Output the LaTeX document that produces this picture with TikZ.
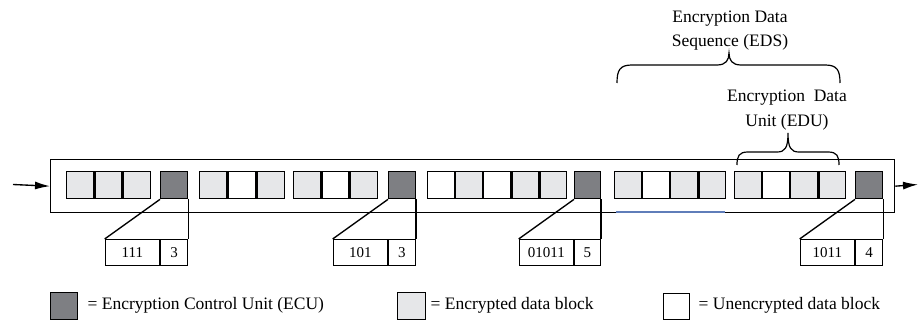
\documentclass[tikz,border=0pt]{standalone}
\usepackage{fontspec}
\setmainfont{Liberation Serif}
\usetikzlibrary{arrows.meta}
\definecolor{ecu}{RGB}{126,127,131}
\definecolor{enc}{RGB}{230,231,233}
\definecolor{bluish}{RGB}{95,125,185}
\begin{document}
\begin{tikzpicture}[x=1pt,y=-1pt,line width=1.35pt,
  blockbox/.style={draw, minimum width=27pt, minimum height=27pt, inner sep=0pt, anchor=north west},
  encblk/.style={blockbox, fill=enc},
  plainblk/.style={blockbox, fill=white},
  ecublk/.style={blockbox, fill=ecu},
  nextblk/.style={anchor=west},
  narrow/.style={minimum width=26.7pt},
  cbox/.style={draw, minimum height=26pt, inner sep=0pt, font=\fontsize{15}{18}\selectfont},
  lbl/.style={align=center, inner sep=0pt, font=\fontsize{17.5}{24.5}\selectfont},
  legtext/.style={inner sep=0pt, anchor=west, font=\fontsize{17.5}{21}\selectfont},
  flow/.style={-{Latex[length=15pt,width=8pt]}, line width=1.35pt},
  bracepath/.style={line width=1.2pt}
]
\useasboundingbox (0,0) rectangle (918,320);

% frame
\node[draw, minimum width=844pt, minimum height=53pt, inner sep=0pt, anchor=north west] (frame) at (50,159) {};
\draw[bluish, line width=1.4pt] (616,212) coordinate (bl1) -- (725,212) coordinate (bl2);

% arrows
\coordinate (in) at (13,184.5);
\coordinate (out) at (918,184.5);
\draw[flow] (in) -- (frame.west);
\draw[flow] (frame.east) -- (out);

% group 1
\node[encblk] (g1a) at (66,171) {};
\node[encblk, nextblk] (g1b) at (g1a.east) {};
\node[encblk, nextblk] (g1c) at (g1b.east) {};
\node[ecublk] (e1) at (160,171) {};
% group 2
\node[encblk, minimum width=27.3pt] (g2a) at (199,171) {};
\node[plainblk, nextblk, minimum width=27.3pt] (g2b) at (g2a.east) {};
\node[encblk, nextblk, minimum width=27.3pt] (g2c) at (g2b.east) {};
% group 3
\node[encblk] (g3a) at (293,171) {};
\node[plainblk, nextblk] (g3b) at (g3a.east) {};
\node[encblk, nextblk] (g3c) at (g3b.east) {};
\node[ecublk, minimum width=26.5pt] (e2) at (388,171) {};
% group 4
\node[plainblk, narrow] (g4a) at (427,171) {};
\node[encblk, nextblk, narrow] (g4b) at (g4a.east) {};
\node[plainblk, nextblk, narrow] (g4c) at (g4b.east) {};
\node[encblk, nextblk, narrow] (g4d) at (g4c.east) {};
\node[encblk, nextblk, narrow] (g4e) at (g4d.east) {};
\node[ecublk, minimum width=25.5pt] (e3) at (574,171) {};
% group 5
\node[encblk, narrow] (g5a) at (614,171) {};
\node[plainblk, nextblk, narrow] (g5b) at (g5a.east) {};
\node[encblk, nextblk, narrow] (g5c) at (g5b.east) {};
\node[encblk, nextblk, narrow] (g5d) at (g5c.east) {};
% group 6
\node[encblk, narrow] (g6a) at (734,171) {};
\node[plainblk, nextblk, narrow] (g6b) at (g6a.east) {};
\node[encblk, nextblk, narrow] (g6c) at (g6b.east) {};
\node[encblk, nextblk, narrow] (g6d) at (g6c.east) {};
\node[ecublk] (e4) at (855,171) {};

% callouts
\coordinate (callrow) at (0,239);
\node[cbox, minimum width=54pt, anchor=north east] (v1) at (e1.south west |- callrow) {111};
\node[cbox, minimum width=27pt, anchor=north west] (n1) at (v1.north east) {3};
\draw (e1.south west) -- (v1.north west);
\draw (e1.south east) -- (n1.north east);

\node[cbox, minimum width=54pt, anchor=north east] (v2) at (e2.south west |- callrow) {101};
\node[cbox, minimum width=26.5pt, anchor=north west] (n2) at (v2.north east) {3};
\draw (e2.south west) -- (v2.north west);
\draw (e2.south east) -- (n2.north east);

\node[cbox, minimum width=54pt, anchor=north east] (v3) at (e3.south west |- callrow) {01011};
\node[cbox, minimum width=25.5pt, anchor=north west] (n3) at (v3.north east) {5};
\draw (e3.south west) -- (v3.north west);
\draw (e3.south east) -- (n3.north east);

\node[cbox, minimum width=54pt, anchor=north east] (v4) at (e4.south west |- callrow) {1011};
\node[cbox, minimum width=27pt, anchor=north west] (n4) at (v4.north east) {4};
\draw (e4.south west) -- (v4.north west);
\draw (e4.south east) -- (n4.north east);

% EDS brace
\draw[bracepath] (617,83) .. controls (617,70) and (620,65) .. (632,65) -- (717,65)
  .. controls (726,65) and (729,60) .. (729,53)
  .. controls (729,60) and (732,65) .. (741,65) -- (825,65)
  .. controls (837,65) and (840,70) .. (840,83);
\node[lbl] (edsl) at (730,30.5) {Encryption Data\\Sequence (EDS)};

% EDU brace
\draw[bracepath] (737,165) .. controls (737,156) and (739,152) .. (748,152) -- (777,152)
  .. controls (785,152) and (788,148) .. (788,133)
  .. controls (788,148) and (791,152) .. (799,152) -- (828,152)
  .. controls (837,152) and (839,156) .. (839,165);
\node[lbl] (edul) at (787,110) {Encryption\ \ Data\\Unit (EDU)};

% legend
\node[ecublk] (lg1) at (50,292) {};
\node[legtext] (lt1) at (87,305) {= Encryption Control Unit (ECU)};
\node[encblk, minimum width=28pt] (lg2) at (397,292) {};
\node[legtext] (lt2) at (430,305) {= Encrypted data block};
\node[plainblk, minimum width=26pt, minimum height=26pt] (lg3) at (663,293) {};
\node[legtext] (lt3) at (698,305) {= Unencrypted data block};
\end{tikzpicture}
\end{document}
